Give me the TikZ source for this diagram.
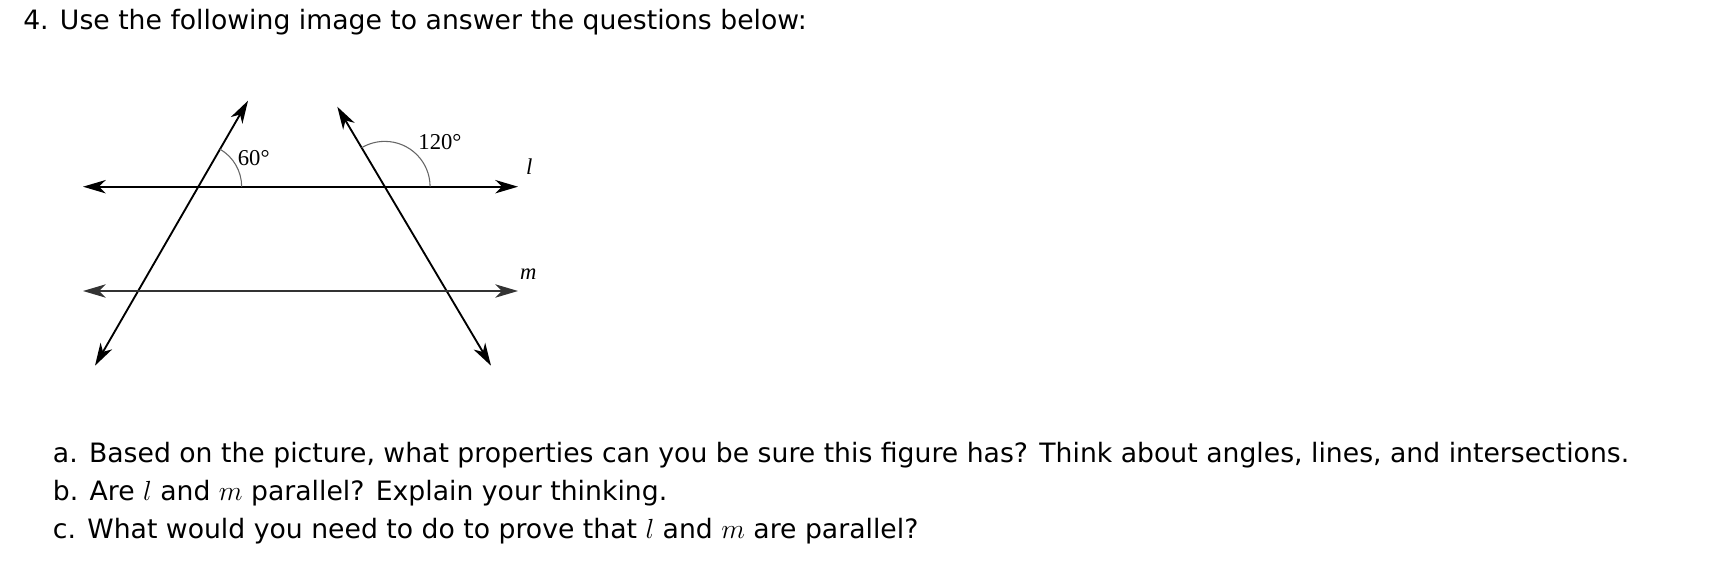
\documentclass[tikz,border=0pt]{standalone}
\usepackage{fontspec}
\usepackage{tkz-euclide}
\usetikzlibrary{arrows.meta}
\setmainfont{DejaVu Sans}
\newfontfamily\figfont{Liberation Serif}
\tikzset{>={Stealth[length=17pt,width=10pt,inset=5pt]}}
\tikzset{question/.style={anchor=base west,inner sep=0pt,font=\fontsize{20pt}{24pt}\selectfont},
  anglabel/.style={inner sep=0pt,font=\figfont\fontsize{17pt}{20pt}\selectfont},
  linelabel/.style={inner sep=0pt,font=\figfont\itshape\fontsize{17pt}{20pt}\selectfont},
  anglearc/.style={black!60, line width=0.8pt}}

\begin{document}
\begin{tikzpicture}[x=0.75pt,y=0.75pt]
    \useasboundingbox (0,0) rectangle (1710,576);
    \tkzDefPoints{83/389.3/L1, 518/389.3/L2, 83/285/M1, 518/285/M2}
    \tkzDefPoints{248/475.3/A, 95/210.3/B, 337.3/469.3/C, 491/210.3/D}
    \coordinate (P) at (intersection of A--B and L1--L2);
    \coordinate (Q) at (intersection of C--D and L1--L2);
    \tkzDrawSegments[<->, line width=1.4pt](L1,L2 A,B C,D)
    \tkzDrawSegment[<->, line width=1.4pt, black!80](M1,M2)
    % angle marks
    \draw[anglearc] (P) ++(0:32.5pt) arc[start angle=0, end angle=60, radius=32.5pt];
    \draw[anglearc] (Q) ++(0:34pt) arc[start angle=0, end angle=120.7, radius=34pt];
    \node[anglabel] (lab60) at (253.7,417.7) {60°};
    \node[anglabel] (lab120) at (440,434) {120°};
    \node[linelabel] (labl) at (529.3,409.3) {l};
    \node[linelabel] (labm) at (528.3,301.5) {m};
    \node[question] (title) at (23,546) {4. Use the following image to answer the questions below:};
    \node[question] (qa) at (52.7,114) {a. Based on the picture, what properties can you be sure this figure has? Think about angles, lines, and intersections.};
    \node[question] (qb) at (52.7,75.5) {b. Are $l$ and $m$ parallel? Explain your thinking.};
    \node[question] (qc) at (52.7,38) {c. What would you need to do to prove that $l$ and $m$ are parallel?};
\end{tikzpicture}
\end{document}
